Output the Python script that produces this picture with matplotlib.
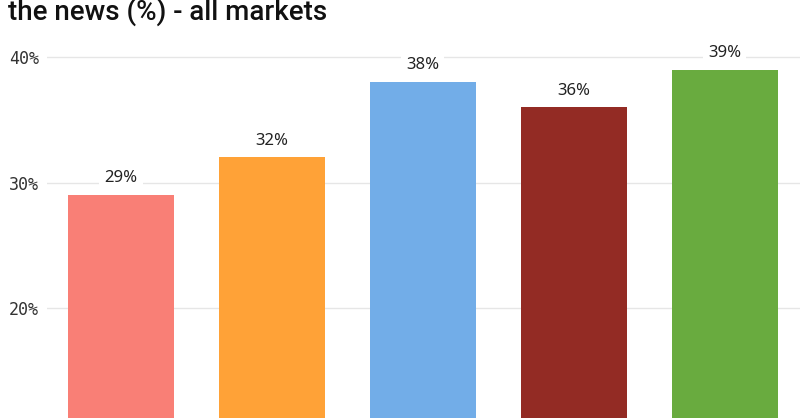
import matplotlib
matplotlib.use("Agg")
import matplotlib.pyplot as plt

# Data
categories = ["Cat 1", "Cat 2", "Cat 3", "Cat 4", "Cat 5"]
values = [29, 32, 38, 36, 39]
colors = ["#F97F76", "#FFA237", "#72ADE8", "#932B24", "#69AB3F"]
yticks = [20, 30, 40]
ytick_labels = ["20%", "30%", "40%"]
title = "the news (%) - all markets"

W, H = 800, 418
fig = plt.figure(figsize=(W / 100, H / 100), dpi=100)
left_px = 47
ax = fig.add_axes([left_px / W, 0, 1 - left_px / W, 1])

spacing = 150.9
c0 = 121
ax.set_xlim((left_px - c0) / spacing, (W - c0) / spacing)
px_per_unit = 12.55
ax.set_ylim(20 - (H - 308) / px_per_unit, 20 + 308 / px_per_unit)

x = list(range(len(categories)))
ax.bar(x, values, width=106 / spacing, color=colors, zorder=2)

for xi, v in zip(x, values):
    ax.annotate(f"{v}%", (xi, v), xytext=(0, 12), textcoords="offset points",
                ha="center", va="center", fontsize=12, family="Noto Sans",
                color="#222222", zorder=3,
                bbox=dict(boxstyle="square,pad=0.3", fc="white", ec="none"))

ax.set_yticks(yticks)
ax.set_yticklabels(ytick_labels, family="DejaVu Sans Mono", fontsize=12, color="#333333")
ax.tick_params(axis="y", length=0, pad=6)
ax.set_xticks([])
ax.grid(axis="y", color="#e6e6e6", linewidth=1, zorder=0)
ax.set_axisbelow(True)
for s in ax.spines.values():
    s.set_visible(False)

fig.text(8 / W, 1 - 19.5 / H, title, fontsize=20, family="Roboto", weight="medium",
         color="#111111", ha="left", va="baseline")

fig.savefig("out.png", dpi=100)
